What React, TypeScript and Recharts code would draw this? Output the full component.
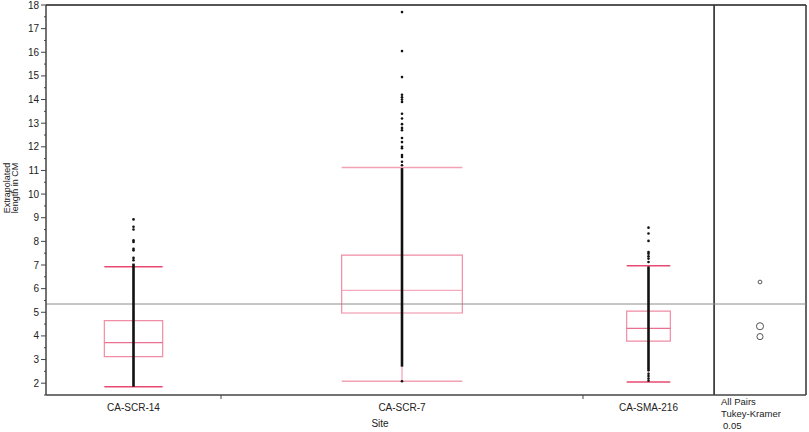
import React from "react";
import {
  ComposedChart,
  Scatter,
  XAxis,
  YAxis,
  ReferenceLine,
  ReferenceArea,
} from "recharts";

// sites along the x axis, widths follow the number of fish measured
const sites = ["CA-SCR-14", "CA-SCR-7", "CA-SMA-216"];
const siteCounts = [350, 724, 262];

// box plot summary per site
const q1 = [3.12, 4.97, 3.78];
const median = [3.72, 5.93, 4.32];
const q3 = [4.65, 7.42, 5.05];
const whiskerLow = [1.85, 2.08, 2.05];
const whiskerHigh = [6.93, 11.12, 6.97];

// range where the points overlap into a solid column
const denseLow = [1.85, 2.7, 2.5];
const denseHigh = [7.06, 11.1, 6.94];

// single points that can be told apart
const sparseScr14 = [8.93, 8.62, 8.5, 8.04, 7.97, 7.69, 7.62, 7.3, 7.2];
const sparseScr7 = [
  17.7, 16.05, 14.95, 14.2, 14.1, 14.0, 13.9, 13.4, 13.2, 12.96, 12.8, 12.7,
  12.37, 12.2, 12.0, 11.94, 11.65, 11.57, 11.37, 11.22, 2.08,
];
const sparseSma216 = [8.58, 8.33, 8.02, 7.55, 7.48, 7.37, 7.27, 7.13, 2.4, 2.3, 2.2, 2.1];

// comparison circles (mean and interval half width)
const siteMeans = [3.97, 6.28, 4.41];
const meanHalfWidth = [0.13, 0.08, 0.15];
const grandMean = 5.35;

const yMajorTicks = [2, 3, 4, 5, 6, 7, 8, 9, 10, 11, 12, 13, 14, 15, 16, 17, 18];
const yMinorTicks = [1.5, ...yMajorTicks.map((v) => v + 0.5).filter((v) => v < 18)];
const yDomain: [number, number] = [1.5, 18];

const FONT = "'Liberation Sans', Arial, sans-serif";
const TOP = 5;
const PLOT_BOTTOM = 395;
const XAXIS_H = 37;
const CHART_H = 432;
const PX_PER_UNIT = (PLOT_BOTTOM - TOP) / (yDomain[1] - yDomain[0]);

const starts = siteCounts.map((_, i) => siteCounts.slice(0, i).reduce((a, b) => a + b, 0));
const total = siteCounts.reduce((a, b) => a + b, 0);
const centers = starts.map((s, i) => s + siteCounts[i] / 2);
const boundaries = starts.slice(1);
const half = siteCounts.map((c) => c / 6);

const sparseAll = [sparseScr14, sparseScr7, sparseSma216];
const points = sparseAll.flatMap((arr, i) => arr.map((y) => ({ x: centers[i], y })));

const circles = siteMeans.map((m, i) => ({ x: 0.5, y: m, r: meanHalfWidth[i] }));

const boxStroke = "#f08ca4";
const capStroke = ["#e84a72", "#f3a2b4", "#e84a72"];
const medianStroke = ["#ec6f8f", "#f4aabb", "#ec6f8f"];
const frame = "#444";

const XTick = (props: any) => {
  const { x, y, payload } = props;
  const idx = centers.indexOf(payload.value);
  if (idx >= 0) {
    return (
      <text x={x} y={y + 16} textAnchor="middle" fontSize={10} fontFamily={FONT} fill="#222">
        {sites[idx]}
      </text>
    );
  }
  return <line x1={x} x2={x} y1={y} y2={y + 4} stroke={frame} strokeWidth={1} />;
};

const YTick = (props: any) => {
  const { x, y, payload } = props;
  const major = Number.isInteger(payload.value);
  if (!major) {
    return <line x1={x - 2} x2={x} y1={y} y2={y} stroke={frame} strokeWidth={1} />;
  }
  return (
    <g>
      <line x1={x - 5} x2={x} y1={y} y2={y} stroke={frame} strokeWidth={1} />
      <text
        x={x - 7}
        y={y}
        textAnchor="end"
        dominantBaseline="central"
        fontSize={10}
        fontFamily={FONT}
        fill="#222"
      >
        {payload.value}
      </text>
    </g>
  );
};

const YLabel = () => (
  <g transform="translate(7,188) rotate(-90)" fontFamily={FONT} fontSize={9} fill="#222">
    <text x={0} y={0} textAnchor="middle" dominantBaseline="central">
      Extrapolated
    </text>
    <text x={0} y={8} textAnchor="middle" dominantBaseline="central">
      length in CM
    </text>
  </g>
);

const TestLabel = (props: any) => {
  const { viewBox } = props;
  const x = viewBox.x + 7;
  const y = viewBox.y;
  return (
    <text fontFamily={FONT} fontSize={9.5} fill="#222">
      <tspan x={x} y={y + 10}>All Pairs</tspan>
      <tspan x={x} y={y + 22}>Tukey-Kramer</tspan>
      <tspan x={x + 2} y={y + 34}>0.05</tspan>
    </text>
  );
};

const Dot = (props: any) => <circle cx={props.cx} cy={props.cy} r={1.3} fill="#111" />;

const MeanCircle = (props: any) => (
  <circle
    cx={props.cx}
    cy={props.cy}
    r={Math.max(props.payload.r * PX_PER_UNIT, 1.5)}
    fill="none"
    stroke="#555"
    strokeWidth={1}
  />
);

export default function App() {
  return (
    <div style={{ position: "absolute", left: 0, top: 0, width: 809, height: 432, background: "#fff" }}>
      <div style={{ position: "absolute", left: 0, top: 0 }}>
        <ComposedChart width={716} height={CHART_H} margin={{ top: TOP, right: 2, bottom: 0, left: 0 }}>
          <XAxis
            type="number"
            dataKey="x"
            domain={[0, total]}
            ticks={[...boundaries, ...centers]}
            interval={0}
            tick={<XTick />}
            tickLine={false}
            tickSize={0}
            tickMargin={0}
            height={XAXIS_H}
            axisLine={{ stroke: frame, strokeWidth: 1.5 }}
            allowDataOverflow
            label={{
              value: "Site",
              position: "insideBottom",
              offset: 5,
              fontSize: 10,
              fontFamily: FONT,
              fill: "#222",
            }}
          />
          <YAxis
            type="number"
            dataKey="y"
            domain={yDomain}
            ticks={[...yMinorTicks, ...yMajorTicks]}
            interval={0}
            tick={<YTick />}
            tickLine={false}
            tickSize={0}
            tickMargin={0}
            width={46}
            axisLine={{ stroke: frame, strokeWidth: 1.5 }}
            allowDataOverflow
            label={<YLabel />}
          />
          <ReferenceLine y={18} stroke="#555" strokeWidth={2} />
          <ReferenceLine x={total} stroke="#333" strokeWidth={1.5} />
          <ReferenceLine y={grandMean} stroke="#8c8c8c" strokeWidth={1} />
          {sites.map((s, i) => (
            <ReferenceLine
              key={`w-${s}`}
              segment={[
                { x: centers[i], y: whiskerLow[i] },
                { x: centers[i], y: whiskerHigh[i] },
              ]}
              stroke={boxStroke}
              strokeWidth={1}
            />
          ))}
          {sites.map((s, i) => (
            <ReferenceArea
              key={`b-${s}`}
              x1={centers[i] - half[i]}
              x2={centers[i] + half[i]}
              y1={q1[i]}
              y2={q3[i]}
              fill="none"
              fillOpacity={0}
              stroke={boxStroke}
              strokeWidth={1.2}
            />
          ))}
          {sites.map((s, i) => (
            <ReferenceLine
              key={`m-${s}`}
              segment={[
                { x: centers[i] - half[i], y: median[i] },
                { x: centers[i] + half[i], y: median[i] },
              ]}
              stroke={medianStroke[i]}
              strokeWidth={1.2}
            />
          ))}
          {sites.map((s, i) => (
            <ReferenceLine
              key={`lo-${s}`}
              segment={[
                { x: centers[i] - half[i], y: whiskerLow[i] },
                { x: centers[i] + half[i], y: whiskerLow[i] },
              ]}
              stroke={capStroke[i]}
              strokeWidth={1.5}
            />
          ))}
          {sites.map((s, i) => (
            <ReferenceLine
              key={`hi-${s}`}
              segment={[
                { x: centers[i] - half[i], y: whiskerHigh[i] },
                { x: centers[i] + half[i], y: whiskerHigh[i] },
              ]}
              stroke={capStroke[i]}
              strokeWidth={1.5}
            />
          ))}
          {sites.map((s, i) => (
            <ReferenceLine
              key={`d-${s}`}
              segment={[
                { x: centers[i], y: denseLow[i] },
                { x: centers[i], y: denseHigh[i] },
              ]}
              stroke="#111"
              strokeWidth={2.6}
            />
          ))}
          <Scatter data={points} dataKey="y" shape={<Dot />} isAnimationActive={false} />
        </ComposedChart>
      </div>
      <div style={{ position: "absolute", left: 714, top: 0 }}>
        <ComposedChart width={95} height={CHART_H} margin={{ top: TOP, right: 3, bottom: 0, left: 0 }}>
          <XAxis
            type="number"
            dataKey="x"
            domain={[0, 1]}
            tick={false}
            tickLine={false}
            height={XAXIS_H}
            axisLine={{ stroke: frame, strokeWidth: 1.5 }}
            label={<TestLabel />}
          />
          <YAxis type="number" dataKey="y" domain={yDomain} hide allowDataOverflow />
          <ReferenceLine y={18} stroke="#555" strokeWidth={2} />
          <ReferenceLine x={0} stroke="#333" strokeWidth={1.5} />
          <ReferenceLine x={1} stroke="#333" strokeWidth={1.5} />
          <ReferenceLine y={grandMean} stroke="#8c8c8c" strokeWidth={1} />
          <Scatter data={circles} dataKey="y" shape={<MeanCircle />} isAnimationActive={false} />
        </ComposedChart>
      </div>
    </div>
  );
}
